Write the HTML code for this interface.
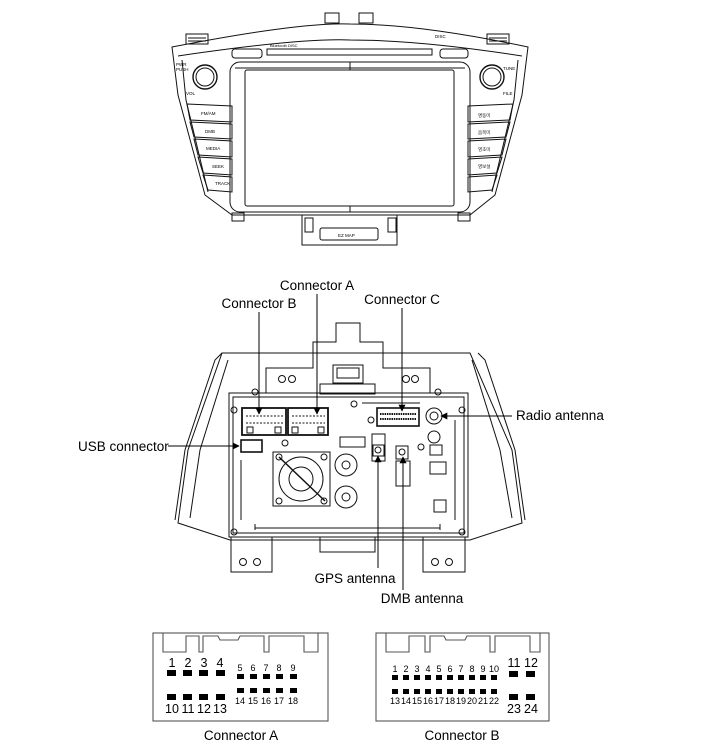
<!DOCTYPE html>
<html><head><meta charset="utf-8"><style>
html,body{margin:0;padding:0;background:#fff;}
svg{display:block;}
text{font-family:"Liberation Sans",Arial,sans-serif;fill:#000;}
</style></head><body>
<svg width="701" height="754" viewBox="0 0 701 754" xmlns="http://www.w3.org/2000/svg">
<defs>
<marker id="ar" viewBox="0 0 10 10" refX="9" refY="5" markerWidth="7" markerHeight="7" orient="auto"><path d="M0,0 L10,5 L0,10 z" fill="#000"/></marker>
</defs>
<!-- ================= TOP UNIT ================= -->
<g fill="none" stroke="#111" stroke-width="1">
 <rect x="325" y="13" width="14" height="10"/><rect x="359" y="13" width="14" height="10"/>
 <rect x="186" y="34" width="22" height="10"/><rect x="487" y="34" width="22" height="10"/>
 <line x1="188" y1="38" x2="206" y2="38"/><line x1="188" y1="41" x2="206" y2="41"/>
 <line x1="489" y1="38" x2="507" y2="38"/><line x1="489" y1="41" x2="507" y2="41"/>
 <path d="M172,47 Q300,22 350,24 Q420,24 528,47 L522,95 L495,195 L470,215 L232,215 L205,195 L178,95 Z"/>
 <path d="M178,56 Q300,38 350,40 Q420,40 522,56"/>
 <path d="M182,60 L186,100 L208,192"/><path d="M518,60 L514,100 L492,192"/>
 <rect x="267" y="49" width="165" height="6"/>
 <rect x="232" y="49" width="30" height="9" rx="3"/><rect x="440" y="49" width="28" height="9" rx="3"/>
 <rect x="230" y="62" width="240" height="150" rx="10"/>
 <rect x="245" y="70" width="209" height="136" rx="2"/>
 <line x1="235" y1="68" x2="465" y2="68"/>
 <line x1="350" y1="62" x2="350" y2="70"/><line x1="350" y1="206" x2="350" y2="212"/>
 <circle cx="205" cy="77" r="12" stroke-width="1.4"/><circle cx="205" cy="77" r="9"/>
 <circle cx="492" cy="77" r="12" stroke-width="1.4"/><circle cx="492" cy="77" r="9"/>
 <path d="M187,104 L232,106 L232,122 L190,120 Z"/>
 <path d="M190,122 L232,124 L232,139 L194,137 Z"/>
 <path d="M194,139 L232,141 L232,157 L198,155 Z"/>
 <path d="M198,157 L232,159 L232,175 L203,173 Z"/>
 <path d="M203,175 L232,177 L232,192 L208,190 Z"/>
 <path d="M468,106 L513,104 L510,120 L468,122 Z"/>
 <path d="M468,124 L510,122 L506,137 L468,139 Z"/>
 <path d="M468,141 L506,139 L502,155 L468,157 Z"/>
 <path d="M468,159 L502,157 L497,173 L468,175 Z"/>
 <path d="M468,177 L497,175 L492,190 L468,192 Z"/>
 <rect x="232" y="213" width="12" height="8"/><rect x="458" y="213" width="12" height="8"/>
 <path d="M302,215 L302,245 L397,245 L397,215"/>
 <rect x="305" y="218" width="8" height="14"/><rect x="388" y="218" width="8" height="14"/>
 <rect x="320" y="228" width="58" height="12" rx="2"/>
</g>
<g font-size="4.5" fill="#444">
 <text x="270" y="47" font-size="4">Bluetooth DISC</text>
 <text x="435" y="38">DISC</text>
 <text x="176" y="66">PWR</text><text x="176" y="71">PUSH</text>
 <text x="186" y="95">VOL</text><text x="503" y="70">TUNE</text><text x="503" y="95">FILE</text>
 <text x="201" y="115">FM/AM</text><text x="205" y="133">DMB</text><text x="206" y="150">MEDIA</text>
 <text x="212" y="168">SEEK</text><text x="215" y="185">TRACK</text>
 <text x="478" y="117">명동미</text><text x="478" y="134">음목미</text><text x="478" y="151">영초미</text><text x="478" y="168">영보설</text>
 <text x="338" y="237">EZ MAP</text>
</g>
<!-- ================= BACK UNIT ================= -->
<g fill="none" stroke="#111" stroke-width="1">
 <path d="M222,353 L470,353 L512,450 L522,523 L470,540 L230,540 L178,523 L188,450 Z"/>
 <path d="M228,360 L200,450 L190,518"/><path d="M472,360 L500,450 L512,518"/>
 <path d="M222,353 L215,360 L185,450 L175,520"/><path d="M478,353 L485,360 L515,450 L525,520"/>
 <path d="M266,393 L266,368 L313,368 L313,342 L336,342 L336,323 L360,323 L360,342 L383,342 L383,368 L430,368 L430,393"/>
 <rect x="333" y="365" width="30" height="18"/><rect x="337" y="368" width="22" height="10"/>
 <circle cx="282" cy="379" r="3.5"/><circle cx="292" cy="379" r="3.5"/>
 <circle cx="406" cy="379" r="3.5"/><circle cx="415" cy="379" r="3.5"/>
 <rect x="320" y="384" width="55" height="10"/>
 <rect x="229" y="393" width="239" height="144"/>
 <rect x="233" y="397" width="231" height="136"/>
 <rect x="242" y="408" width="44" height="27" stroke-width="1.8"/>
 <rect x="288" y="408" width="40" height="27" stroke-width="1.8"/>
 <line x1="246" y1="416" x2="283" y2="416" stroke-dasharray="2,1.5"/><line x1="246" y1="423" x2="283" y2="423" stroke-dasharray="2,1.5"/>
 <line x1="292" y1="416" x2="325" y2="416" stroke-dasharray="2,1.5"/><line x1="292" y1="423" x2="325" y2="423" stroke-dasharray="2,1.5"/>
 <rect x="247" y="427" width="6" height="6"/><rect x="275" y="427" width="6" height="6"/><rect x="292" y="427" width="6" height="6"/><rect x="318" y="427" width="6" height="6"/>
 <rect x="377" y="408" width="42" height="18" stroke-width="1.6"/>
 <line x1="380" y1="414" x2="416" y2="414" stroke-width="2" stroke-dasharray="1.5,0.8"/>
 <line x1="380" y1="419" x2="416" y2="419" stroke-width="2" stroke-dasharray="1.5,0.8"/>
 <line x1="362" y1="403" x2="420" y2="403"/>
 <circle cx="434" cy="416" r="8"/><circle cx="434" cy="416" r="4"/>
 <circle cx="434" cy="437" r="6"/>
 <rect x="241" y="440" width="21" height="12" stroke-width="1.6"/>
 <rect x="273" y="452" width="57" height="54"/>
 <circle cx="301" cy="479" r="22"/><circle cx="301" cy="479" r="12"/>
 <line x1="279" y1="457" x2="325" y2="501" stroke-width="1.5"/>
 <circle cx="279" cy="457" r="3"/><circle cx="324" cy="457" r="3"/><circle cx="279" cy="501" r="3"/><circle cx="324" cy="501" r="3"/>
 <circle cx="346" cy="465" r="11"/><circle cx="346" cy="465" r="4"/>
 <circle cx="346" cy="497" r="11"/><circle cx="346" cy="497" r="4"/>
 <rect x="340" y="437" width="25" height="10"/>
 <rect x="372" y="434" width="13" height="27"/><rect x="373" y="445" width="11" height="11"/><circle cx="378" cy="450" r="3"/>
 <rect x="396" y="446" width="12" height="13"/><circle cx="402" cy="452" r="3"/>
 <rect x="396" y="461" width="14" height="25"/>
 <rect x="430" y="445" width="12" height="10"/><rect x="430" y="462" width="16" height="12"/>
 <rect x="434" y="500" width="12" height="12"/>
 <line x1="455" y1="420" x2="455" y2="520"/><line x1="241" y1="460" x2="241" y2="520"/>
 <line x1="255" y1="528" x2="440" y2="528"/><line x1="255" y1="524" x2="255" y2="530"/><line x1="440" y1="524" x2="440" y2="530"/>
 <circle cx="234" cy="410" r="3"/><circle cx="234" cy="532" r="3"/><circle cx="462" cy="410" r="3"/><circle cx="462" cy="532" r="3"/>
 <circle cx="354" cy="404" r="3"/><circle cx="371" cy="420" r="3"/><circle cx="285" cy="443" r="3"/><circle cx="421" cy="447" r="3"/>
 <circle cx="255" cy="392" r="3"/><circle cx="438" cy="392" r="3"/>
 <path d="M231,537 L231,572 L272,572 L272,537"/><circle cx="243" cy="562" r="3.5"/><circle cx="257" cy="562" r="3.5"/>
 <path d="M423,537 L423,572 L465,572 L465,537"/><circle cx="435" cy="562" r="3.5"/><circle cx="449" cy="562" r="3.5"/>
 <path d="M320,537 L320,552 L375,552 L375,537"/>
</g>
<g stroke="#000" stroke-width="1" fill="none">
 <line x1="259" y1="312" x2="259" y2="414" marker-end="url(#ar)"/>
 <line x1="317" y1="294" x2="317" y2="414" marker-end="url(#ar)"/>
 <line x1="402" y1="308" x2="402" y2="411" marker-end="url(#ar)"/>
 <line x1="512" y1="416" x2="441" y2="416" marker-end="url(#ar)"/>
 <line x1="168" y1="446" x2="239" y2="446" marker-end="url(#ar)"/>
 <line x1="378" y1="568" x2="378" y2="456" marker-end="url(#ar)"/>
 <line x1="403" y1="590" x2="403" y2="457" marker-end="url(#ar)"/>
</g>
<g font-size="13.5">
 <text x="317" y="290" text-anchor="middle">Connector A</text>
 <text x="259" y="308" text-anchor="middle">Connector B</text>
 <text x="402" y="304" text-anchor="middle">Connector C</text>
 <text x="516" y="420">Radio antenna</text>
 <text x="78" y="451">USB connector</text>
 <text x="355" y="583" text-anchor="middle">GPS antenna</text>
 <text x="422" y="603" text-anchor="middle">DMB antenna</text>
</g>
<!-- ================= PIN DIAGRAMS ================= -->
<g fill="none" stroke="#555" stroke-width="1.1">
 <rect x="153" y="633" width="175" height="88"/>
 <path d="M163,633 V652 H186 V636 H199 V652 H203 V636 H218 L220,640 H238 L240,636 H264 V652 H269 V636 H304 V652 H318 V633"/>
 <rect x="376" y="633" width="173" height="88"/>
 <path d="M386,633 V652 H409 V636 H425 V652 H430 V636 H444 L446,640 H465 L467,636 H490 V652 H495 V636 H530 V652 H540 V633"/>
</g>
<g fill="#000">
 <rect x="167" y="670" width="9" height="6"/><rect x="183" y="670" width="9" height="6"/><rect x="199" y="670" width="9" height="6"/><rect x="216" y="670" width="9" height="6"/>
 <rect x="237" y="674" width="7" height="5"/><rect x="250" y="674" width="7" height="5"/><rect x="263" y="674" width="7" height="5"/><rect x="276" y="674" width="7" height="5"/><rect x="290" y="674" width="7" height="5"/>
 <rect x="167" y="694" width="9" height="6"/><rect x="183" y="694" width="9" height="6"/><rect x="199" y="694" width="9" height="6"/><rect x="216" y="694" width="9" height="6"/>
 <rect x="237" y="688" width="7" height="5"/><rect x="250" y="688" width="7" height="5"/><rect x="263" y="688" width="7" height="5"/><rect x="276" y="688" width="7" height="5"/><rect x="290" y="688" width="7" height="5"/>
 <rect x="392" y="675" width="6" height="5"/><rect x="403" y="675" width="6" height="5"/><rect x="414" y="675" width="6" height="5"/><rect x="425" y="675" width="6" height="5"/><rect x="436" y="675" width="6" height="5"/><rect x="447" y="675" width="6" height="5"/><rect x="458" y="675" width="6" height="5"/><rect x="469" y="675" width="6" height="5"/><rect x="480" y="675" width="6" height="5"/><rect x="491" y="675" width="6" height="5"/>
 <rect x="392" y="689" width="6" height="5"/><rect x="403" y="689" width="6" height="5"/><rect x="414" y="689" width="6" height="5"/><rect x="425" y="689" width="6" height="5"/><rect x="436" y="689" width="6" height="5"/><rect x="447" y="689" width="6" height="5"/><rect x="458" y="689" width="6" height="5"/><rect x="469" y="689" width="6" height="5"/><rect x="480" y="689" width="6" height="5"/><rect x="491" y="689" width="6" height="5"/>
 <rect x="509" y="671" width="9" height="6"/><rect x="526" y="671" width="9" height="6"/>
 <rect x="509" y="694" width="9" height="6"/><rect x="526" y="694" width="9" height="6"/>
</g>
<g font-size="12.5" text-anchor="middle">
 <text x="172" y="667">1</text><text x="188" y="667">2</text><text x="204" y="667">3</text><text x="220" y="667">4</text>
 <text x="172" y="713">10</text><text x="188" y="713">11</text><text x="204" y="713">12</text><text x="220" y="713">13</text>
 <text x="514" y="667">11</text><text x="531" y="667">12</text>
 <text x="514" y="713">23</text><text x="531" y="713">24</text>
</g>
<g font-size="9" text-anchor="middle">
 <text x="240" y="671">5</text><text x="253" y="671">6</text><text x="266" y="671">7</text><text x="279" y="671">8</text><text x="293" y="671">9</text>
 <text x="240" y="704">14</text><text x="253" y="704">15</text><text x="266" y="704">16</text><text x="279" y="704">17</text><text x="293" y="704">18</text>
 <text x="395" y="672">1</text><text x="406" y="672">2</text><text x="417" y="672">3</text><text x="428" y="672">4</text><text x="439" y="672">5</text><text x="450" y="672">6</text><text x="461" y="672">7</text><text x="472" y="672">8</text><text x="483" y="672">9</text><text x="494" y="672">10</text>
 <text x="395" y="704">13</text><text x="406" y="704">14</text><text x="417" y="704">15</text><text x="428" y="704">16</text><text x="439" y="704">17</text><text x="450" y="704">18</text><text x="461" y="704">19</text><text x="472" y="704">20</text><text x="483" y="704">21</text><text x="494" y="704">22</text>
</g>
<g font-size="13.5" text-anchor="middle">
 <text x="241" y="740">Connector A</text>
 <text x="462" y="740">Connector B</text>
</g>
</svg>
</body></html>
